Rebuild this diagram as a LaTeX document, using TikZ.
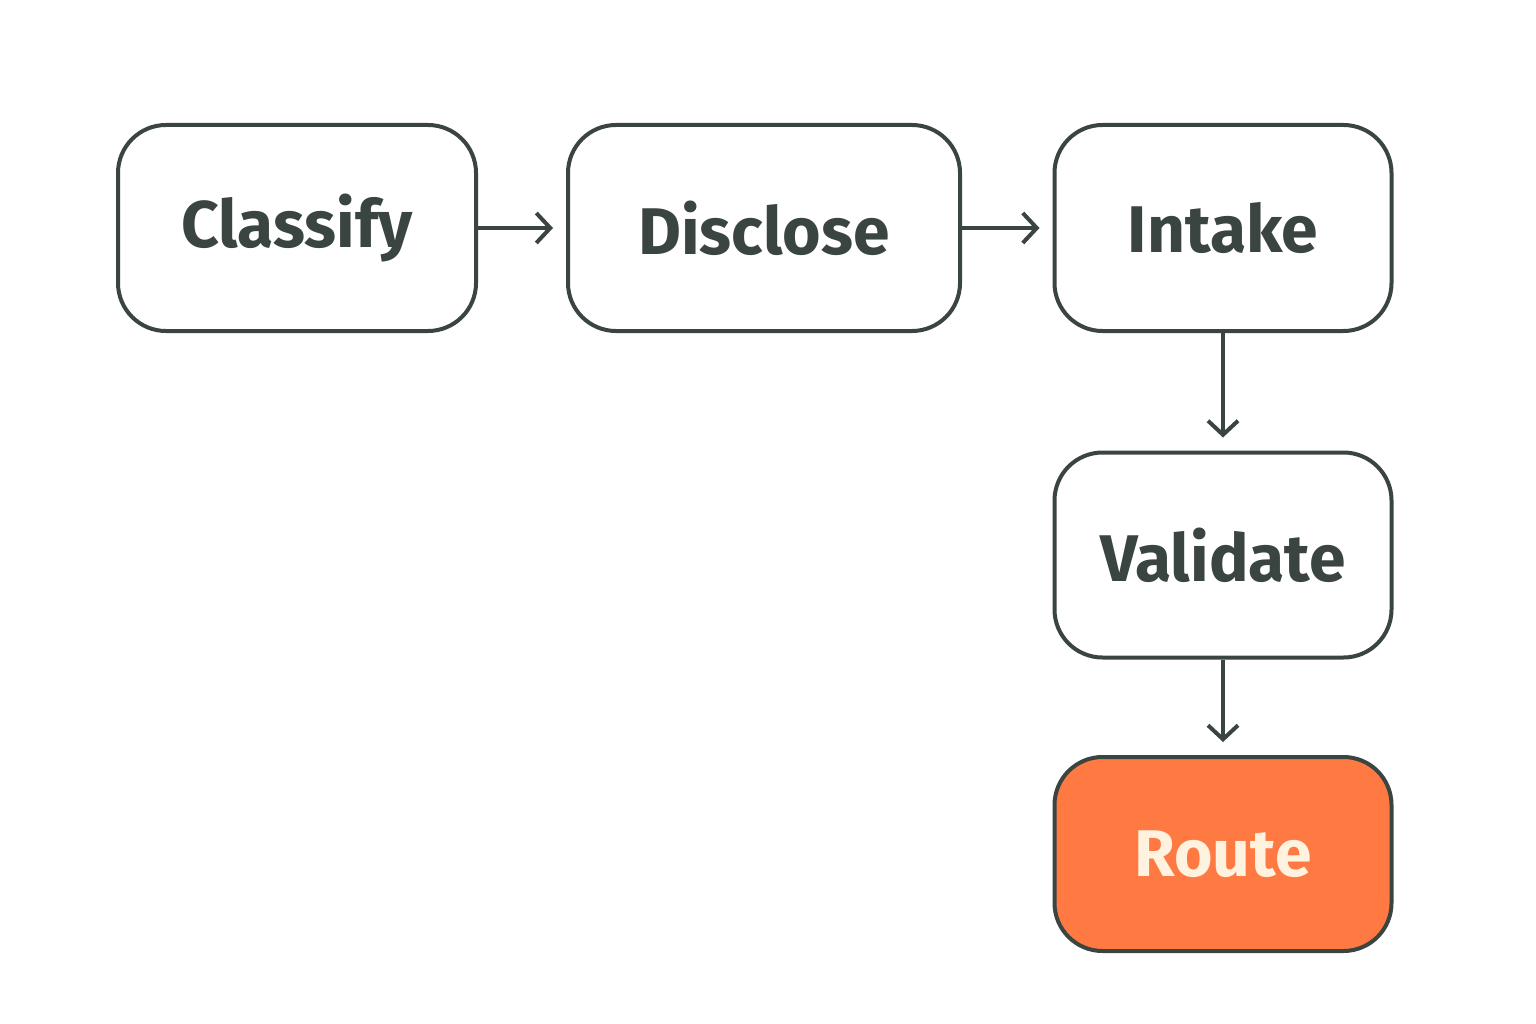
\documentclass[tikz,border=0pt]{standalone}
\usepackage{fontspec}
\setmainfont{Fira Sans}
\usetikzlibrary{arrows.meta}
\definecolor{ink}{HTML}{3A4440}
\definecolor{org}{HTML}{FF7A43}
\definecolor{cream}{HTML}{FFF2DF}
\begin{document}
\begin{tikzpicture}[x=1pt,y=-1pt,
  box/.style={draw=ink,line width=4pt,rounded corners=48pt,minimum height=206pt,
    text=ink,font=\fontsize{66}{70}\selectfont\bfseries,inner sep=0pt},
  arr/.style={draw=ink,line width=4pt,-{Straight Barb[length=14pt,width=30pt,line width=4pt]},shorten >=13pt}]
\useasboundingbox (0,0) rectangle (1536,1024);
\node[box,minimum width=358pt] (c) at (297,228) {Classify};
\node[box,minimum width=392pt] (d) at (764,228) {Disclose};
\node[box,minimum width=337pt] (i) at (1223,228) {Intake};
\node[box,minimum width=337pt,minimum height=205pt] (v) at (1223,555) {Validate};
\node[box,minimum width=337pt,minimum height=194pt,fill=org,text=cream] (r) at (1223,854) {Route};
\draw[arr] (c) -- (d);
\draw[arr] (d) -- (i);
\draw[arr] (i) -- (v);
\draw[arr] (v) -- (r);
\end{tikzpicture}
\end{document}
